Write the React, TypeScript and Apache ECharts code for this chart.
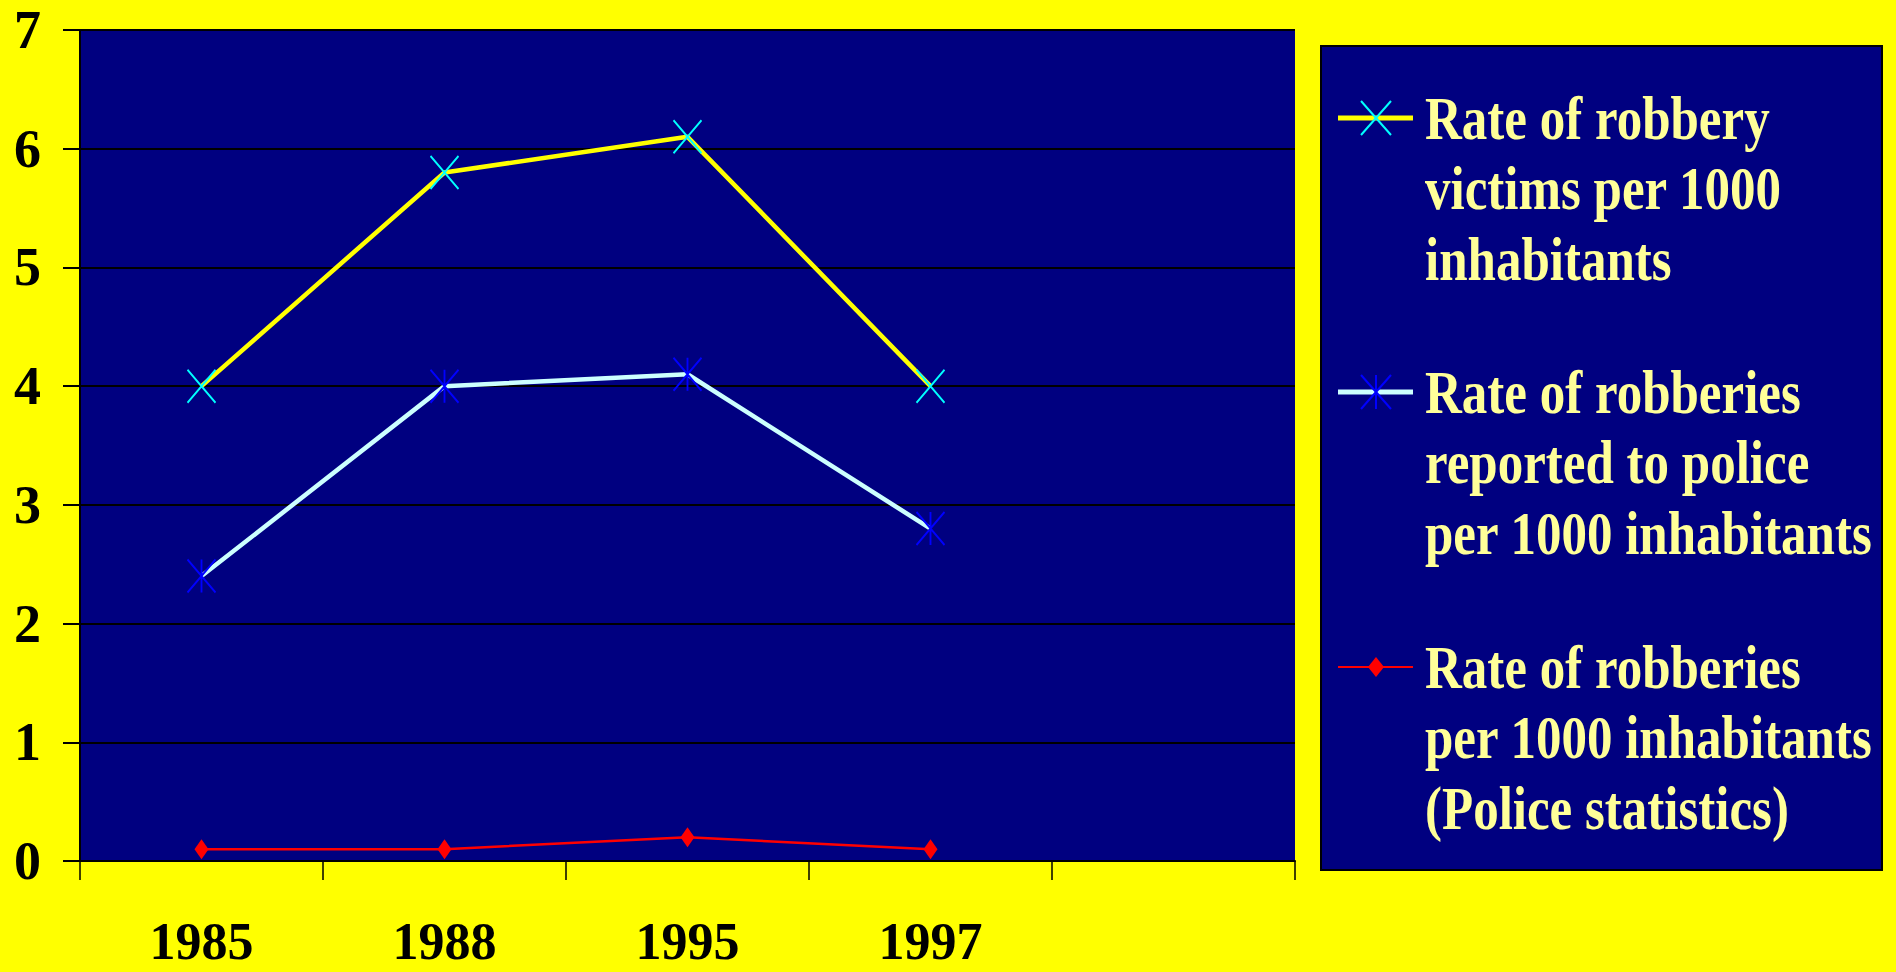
import React, { useEffect, useRef } from 'react';
import * as echarts from 'echarts';

// ---- data ----
const years = ['1985', '1988', '1995', '1997'];
const axisCategories = [...years, ''];
const victimsRate = [4.0, 5.8, 6.1, 4.0];
const reportedRate = [2.4, 4.0, 4.1, 2.8];
const policeRate = [0.1, 0.1, 0.2, 0.1];
const legendLines = [
  ['Rate of robbery', 'victims per 1000', 'inhabitants'],
  ['Rate of robberies', 'reported to police', 'per 1000 inhabitants'],
  ['Rate of robberies', 'per 1000 inhabitants', '(Police statistics)'],
];
const seriesNames = legendLines.map((l) => l.join(' '));
const yMin = 0;
const yMax = 7;
const yStep = 1;

const FONT = '"Liberation Serif", "Times New Roman", serif';

const X_SYMBOL = 'path://M0,0L28,33M28,0L0,33';
const STAR_SYMBOL = 'path://M0,0L28,33M28,0L0,33M14,0L14,33';

function legendGraphic() {
  const els: any[] = [];
  els.push({
    type: 'rect',
    shape: { x: 1321, y: 46, width: 561, height: 824 },
    style: { fill: '#000080', stroke: '#000000', lineWidth: 2 },
    z: 10,
  });
  const cys = [118, 392, 667];
  const lineColors = ['#FFFF00', '#CCFFFF', '#FF0000'];
  const lineWidths = [5, 5, 2];
  const mx = 1376;
  cys.forEach((cy, i) => {
    els.push({
      type: 'line',
      shape: { x1: 1338, y1: cy, x2: 1413, y2: cy },
      style: { stroke: lineColors[i], lineWidth: lineWidths[i] },
      z: 11,
    });
    if (i < 2) {
      const c = i === 0 ? '#00FFFF' : '#0000FF';
      els.push({ type: 'line', shape: { x1: mx - 15, y1: cy - 17, x2: mx + 15, y2: cy + 17 }, style: { stroke: c, lineWidth: 2 }, z: 12 });
      els.push({ type: 'line', shape: { x1: mx + 15, y1: cy - 17, x2: mx - 15, y2: cy + 17 }, style: { stroke: c, lineWidth: 2 }, z: 12 });
      if (i === 1) {
        els.push({ type: 'line', shape: { x1: mx, y1: cy - 17, x2: mx, y2: cy + 17 }, style: { stroke: c, lineWidth: 2 }, z: 12 });
      }
    } else {
      els.push({
        type: 'polygon',
        shape: { points: [[mx, cy - 10], [mx + 8, cy], [mx, cy + 10], [mx - 8, cy]] },
        style: { fill: '#FF0000' },
        z: 12,
      });
    }
    els.push({
      type: 'text',
      x: 1425,
      y: cy - 35.3,
      scaleY: 1.2,
      z: 12,
      style: {
        text: legendLines[i].join('\n'),
        fill: '#FFFF99',
        font: `bold 51px ${FONT}`,
        lineHeight: 58.8,
        align: 'left',
        verticalAlign: 'top',
        textAlign: 'left',
        textVerticalAlign: 'top',
      },
    });
  });
  return els;
}

export default function App() {
  const ref = useRef<HTMLDivElement>(null);
  useEffect(() => {
    if (!ref.current) return;
    const chart = echarts.init(ref.current, undefined, { renderer: 'svg' });
    chart.setOption({
      animation: false,
      backgroundColor: '#FFFF00',
      grid: {
        left: 80,
        top: 30,
        width: 1215,
        height: 831,
        show: true,
        backgroundColor: '#000080',
        borderWidth: 0,
      },
      xAxis: {
        type: 'category',
        data: axisCategories,
        boundaryGap: true,
        axisLine: { show: true, lineStyle: { color: '#000000', width: 2 } },
        axisTick: { show: true, length: 19, interval: 0, lineStyle: { color: '#000000', width: 1.5 } },
        axisLabel: {
          interval: 0,
          margin: 54,
          lineHeight: 52,
          color: '#000000',
          fontFamily: FONT,
          fontWeight: 'bold',
          fontSize: 52,
        },
        splitLine: { show: false },
      },
      yAxis: {
        type: 'value',
        min: yMin,
        max: yMax,
        interval: yStep,
        axisLine: { show: true, lineStyle: { color: '#000000', width: 2 } },
        axisTick: { show: true, length: 17, lineStyle: { color: '#000000', width: 2 } },
        axisLabel: {
          margin: 39,
          color: '#000000',
          fontFamily: FONT,
          fontWeight: 'bold',
          fontSize: 54,
        },
        splitLine: { show: true, lineStyle: { color: '#000000', width: 2 } },
      },
      series: [
        {
          name: seriesNames[0],
          type: 'line',
          data: victimsRate,
          symbol: X_SYMBOL,
          symbolSize: [28, 33],
          lineStyle: { color: '#FFFF00', width: 4.5 },
          itemStyle: { color: 'transparent', borderColor: '#00FFFF', borderWidth: 2 },
          z: 3,
        },
        {
          name: seriesNames[1],
          type: 'line',
          data: reportedRate,
          symbol: STAR_SYMBOL,
          symbolSize: [28, 33],
          lineStyle: { color: '#CCFFFF', width: 4.5 },
          itemStyle: { color: 'transparent', borderColor: '#0000FF', borderWidth: 2 },
          z: 3,
        },
        {
          name: seriesNames[2],
          type: 'line',
          data: policeRate,
          symbol: 'diamond',
          symbolSize: [14, 20],
          lineStyle: { color: '#FF0000', width: 2.5 },
          itemStyle: { color: '#FF0000', borderWidth: 0 },
          z: 3,
        },
      ],
      graphic: legendGraphic(),
    });
    return () => chart.dispose();
  }, []);
  return (
    <div
      ref={ref}
      style={{ position: 'fixed', left: 0, top: 0, width: 1896, height: 972 }}
    />
  );
}
